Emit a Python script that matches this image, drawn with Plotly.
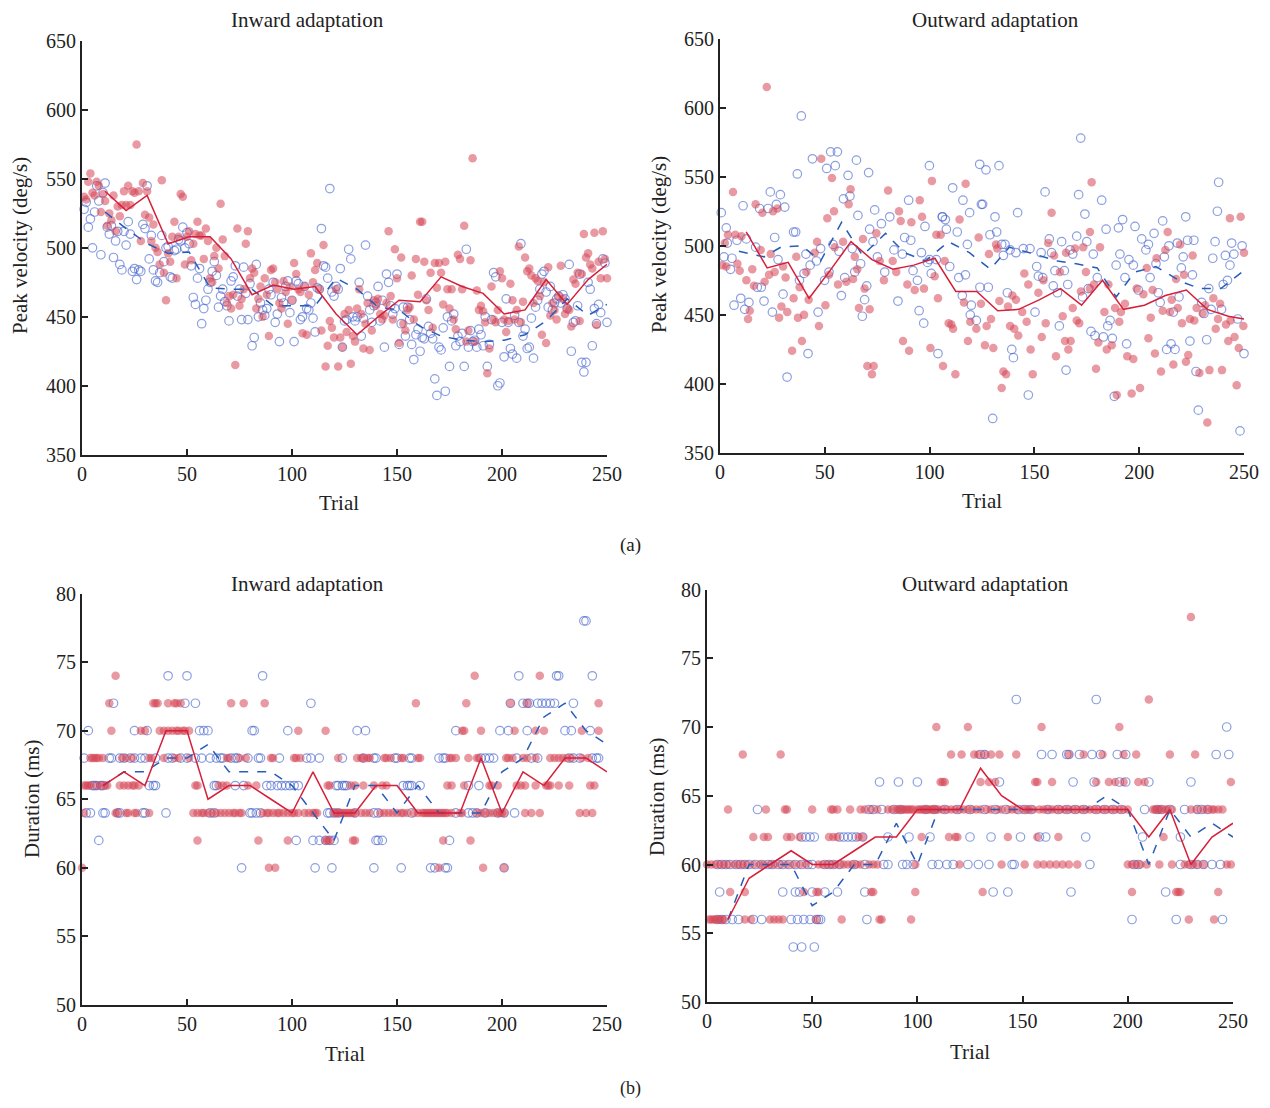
import plotly.graph_objects as go

FONT = "Liberation Serif, Times New Roman, serif"
W, H = 1270, 1108
OFF = 8                      # default page margin of the browser body
FW, FH = W - 2 * OFF, H - 2 * OFF

# ---------------- (a) Peak velocity, inward adaptation (trials 1..250) ----------------
tl_red = [537,535,548,554,540,538,548,545,526,539, 534,516,525,520,538,512,530,523,531,541,
          531,545,531,541,540,575,541,505,547,524, 541,522,505,517,500,497,488,549,482,462,
          496,490,508,519,478,508,539,537,488,508, 512,491,503,510,519,509,509,492,514,505,
          478,475,494,500,485,532,506,494,460,465, 456,466,415,514,458,463,470,503,512,478,
          485,482,456,463,472,450,478,466,436,484, 485,475,470,460,456,476,468,445,472,462,
          489,481,470,468,438,472,437,466,496,475, 484,489,470,440,502,414,429,447,442,435,
          470,414,435,428,452,439,455,416,436,432, 456,470,452,427,445,460,426,440,462,458,
          463,452,448,451,460,512,465,448,499,478, 431,493,445,440,455,457,480,448,492,466,
          519,519,490,462,455,482,442,489,471,489, 482,459,490,470,456,470,448,441,495,492,
          470,516,432,440,491,565,432,469,455,458, 454,446,409,427,472,448,446,455,483,478,
          448,439,447,474,462,448,455,501,446,461, 493,483,485,480,460,478,476,465,437,475,
          431,486,451,460,455,448,465,487,463,452, 456,455,443,477,474,482,447,481,510,493,
          496,488,485,511,444,490,478,512,492,478]
tl_blue = [528,533,515,521,500,526,545,534,495,540, 547,515,510,516,493,505,512,488,484,512,
           502,519,510,483,485,477,484,483,517,514, 545,492,509,484,476,475,482,509,490,500,
           501,479,478,498,499,506,505,515,500,511, 503,487,464,459,478,485,445,456,462,470,
           475,483,490,480,457,465,470,461,458,447, 476,479,487,465,470,448,486,467,448,474,
           429,435,488,450,460,455,451,456,470,466, 475,446,452,432,464,460,472,476,453,462,
           432,476,474,448,450,472,456,455,460,449, 439,471,470,514,487,486,478,543,468,465,
           472,470,485,428,447,448,499,492,450,447, 450,475,436,449,502,465,455,446,458,460,
           472,447,462,428,481,475,458,452,456,481, 430,445,457,436,457,448,430,419,437,441,
           425,435,434,463,443,438,434,405,393,428, 426,442,396,450,414,447,452,429,436,432,
           438,414,499,428,440,432,433,428,441,437, 429,450,414,430,448,482,479,400,402,446,
           421,463,446,427,423,451,420,446,503,436, 441,427,428,449,420,457,462,470,481,483,
           468,457,472,455,460,463,465,460,466,463, 456,488,425,446,447,458,481,417,410,417,
           475,470,429,456,445,459,453,492,489,446]
tl_line_x = [11,21,31,41,51,61,71,81,91,101,111,121,131,141,151,161,171,181,191,201,211,221,231,241,250]
tl_red_line = [541,527,538,503,508,508,492,466,473,470,472,452,437,450,462,461,479,472,467,452,455,477,459,477,488]
tl_blue_line = [526,514,503,496,497,471,470,470,458,458,458,478,470,457,455,443,436,433,432,433,437,447,463,451,459]

# ---------------- (a) Peak velocity, outward adaptation (trial, value) ----------------
tr_red = [(1,486),(2.3,502),(22.3,615),(6.2,539),(48.3,563),(53.4,549),(62.3,541),(61.4,530),(17,530),(20.2,524),
          (25.3,525),(27.4,527),(54.4,525),(51.2,520),(80.2,540),(85.4,525),(86.2,518),(91.3,517),(95.3,533),
          (96.4,521),(101.1,547),(117.2,545),(114.3,519),(3.8,508),(7.3,508),(10.2,507),(3,485),(8.3,487),
          (9.4,482),(12.6,475),(14.2,453),(13.4,447),(16.2,471),(19.4,497),(15.4,483),(21.3,474),(23.4,479),
          (24.2,494),(26.1,481),(30.1,485),(31.3,477),(29.3,456),(28.2,448),(32.1,452),(34.4,424),(35.1,462),
          (36.4,492),(38,470),(37.2,448),(40.1,450),(39.1,431),(41.2,481),(42.3,461),(45.2,495),(46.3,503),
          (47.2,442),(50.3,457),(52,479),(54.7,499),(56.3,472),(58.7,503),(60.3,474),(63.5,476),(64.3,492),
          (65.5,483),(66.3,455),(68.2,505),(69,469),(70.3,413),(72.5,407),(73.3,413),(71.4,454),(74.6,509),
          (76.2,489),(78.2,475),(82.4,489),(84.1,481),(87.3,431),(90.2,424),(89.4,472),(92.9,468),(97.3,469),
          (100.4,426),(102.4,478),(104,462),(103.2,508),(105.3,508),(106.4,413),(107.2,489),(109.1,444),
          (110.4,443),(111.2,440),(112.3,407),(116.4,459),(118.3,431),(119.4,445),(122.3,440),(123.4,506),
          (177.3,546),(158.2,524),(243.3,520),(248.4,521),(176.5,510),(181.3,499),(131.7,501),(132.3,498),
          (156.6,502),(159.4,493),(165.1,495),(169.4,498),(173.3,499),(128.3,494),(145.2,480),(147.1,472),
          (151.9,466),(154.3,475),(162.2,481),(124.5,458),(133.3,460),(137.4,456),(139.5,464),(141.2,461),
          (144.2,452),(129.3,447),(127.2,442),(126.4,428),(130.4,426),(135.2,409),(136.5,407),(134.4,397),
          (138.4,442),(140.4,440),(142.3,435),(146.3,445),(148.2,425),(149.2,407),(153.5,434),(155.4,444),
          (160.3,420),(163.5,449),(164.6,431),(166.2,425),(167.3,431),(168.3,455),(170.2,446),(171.4,444),
          (172.2,467),(174.6,481),(176.5,469),(178.4,472),(180.5,430),(179.4,411),(183.4,452),(184.5,425),
          (185.3,472),(186.9,428),(188.5,455),(189.3,392),(190.5,445),(191.3,452),(193.2,458),(194.3,420),
          (196.4,393),(197.2,418),(198.8,469),(200.4,397),(202,465),(203.6,484),(204.4,433),(205.5,448),
          (206.4,468),(207.5,422),(208.3,491),(210.4,409),(211.2,453),(212.5,497),(213.6,510),(214.7,452),
          (215.5,461),(216.3,414),(217.6,476),(218.4,455),(219.5,501),(220.4,444),(221.4,479),(222.3,416),
          (223.4,421),(224.2,447),(225.5,493),(226.3,446),(227.4,455),(228.7,408),(230.3,451),(231.4,457),
          (232.5,372),(233.5,410),(235.4,462),(236.5,440),(237.6,447),(238.6,458),(239.5,410),(241.4,443),
          (242.5,431),(243.6,446),(245.5,434),(246.5,399),(247.5,426),(249.7,442),(250,495)]
tr_blue = [(38.8,594),(44.1,563),(50.9,556),(52.8,568),(56,568),(55,558),(36.9,552),(65.1,562),(70.9,553),
           (61.1,551),(0.6,524),(3,513),(11,529),(24,539),(18.9,527),(22.9,527),(26.9,530),(28.8,537),
           (30.9,528),(58.9,534),(62,536),(65.8,522),(73.8,526),(77,516),(81,521),(90,533),(99.9,558),
           (97.8,514),(106.1,521),(111,542),(115.9,533),(119.1,524),(123.9,559),(124.7,530),(1.9,492),
           (3.5,502),(5.7,491),(8.1,504),(12.6,505),(17,499),(5,483),(6.7,457),(9.9,462),(11.8,454),
           (13.8,459),(17.8,470),(19.7,470),(21,460),(25,452),(26.1,506),(27.7,490),(30.1,465),(35.1,510),
           (36.1,510),(37.9,475),(40.1,480),(41,494),(43,486),(46,489),(46.8,452),(48,498),(49.9,475),
           (52,481),(53.9,501),(56.8,496),(57.9,464),(59.5,477),(63.1,498),(64.3,481),(67.1,487),(69,461),
           (67.9,449),(70,471),(71.4,512),(73,503),(75.1,492),(78.6,481),(83,497),(84.9,460),(87,494),
           (88.1,506),(91,504),(92.1,482),(94.2,475),(95,453),(96.1,495),(97.2,444),(99,488),(100,490),
           (100.8,480),(103.2,490),(104,422),(106.1,521),(107.5,519),(108,512),(109.6,485),(113.2,510),
           (113.9,477),(115.6,464),(117.1,479),(118,501),(119.4,450),(119.9,457),(122.3,446),(32,405),
           (42,422),(172.1,578),(155.1,539),(171.1,537),(182.1,533),(174.1,523),(237.9,546),(237.3,525),
           (126.9,555),(133.1,558),(125.3,530),(131.2,521),(142,524),(184.2,512),(190.1,513),(192.1,519),
           (198,514),(211.2,518),(222.2,521),(128.8,508),(132,510),(134.4,501),(136,501),(138.4,497),
           (135.2,493),(141.2,495),(144.7,498),(147.9,498),(153.2,495),(157.1,505),(158.2,495),(163,503),
           (167,497),(168.3,494),(170.2,507),(175,503),(178.1,494),(180,477),(151.1,485),(151.9,478),
           (154,477),(159.8,482),(164.3,482),(159,471),(161,466),(165.9,472),(173,463),(175.7,469),
           (189,486),(190.8,494),(193.2,477),(195.1,490),(197.2,486),(199.6,468),(201.2,505),(203.2,497),
           (204.4,501),(205.2,477),(207.1,509),(208,487),(209.1,466),(210,459),(212,492),(214.2,500),
           (213.1,425),(217.1,425),(215.2,429),(216.3,452),(218.2,502),(219,463),(220.1,484),(221,492),
           (223.1,504),(224.2,431),(225.4,479),(226.1,504),(227.1,409),(228.2,381),(229.8,459),(230.9,451),
           (232.2,432),(233.2,469),(234.3,454),(235.1,491),(236.2,503),(239.3,454),(240.1,472),(241.1,493),
           (242.1,475),(243.3,486),(244.1,502),(245.2,494),(247,447),(248.1,366),(249.1,500),(250,422),
           (124,470),(128,470),(137.1,466),(139.2,425),(140,419),(147.1,392),(150.3,452),(161.9,442),
           (165.1,410),(177,438),(178.9,435),(182.9,434),(185,442),(186.1,446),(187.2,433),(188.1,391),
           (194,429),(130.1,375)]
tr_red_line_x = [12.5,22.5,32.5,42.5,52.5,62.5,72.5,82.5,92.5,102.5,112.5,122.5,132.5,142.5,152.5,162.5,
                 172.5,182.5,192.5,202.5,212.5,222.5,232.5,242.5,250]
tr_red_line = [510,484,488,462,482,503,490,483,486,491,467,467,453,454,461,469,457,475,454,457,464,468,454,449,447]
tr_blue_line_x = [9,21,29,39,48,58,68,79,88,98,109,119,129,138,150,161,170,180,189,198,208,220,229,239,249]
tr_blue_line = [496,492,499,500,489,517,493,509,495,489,503,495,483,499,494,489,487,484,463,481,485,474,469,469,481]

# ---------------- (b) Duration, inward adaptation: (duration level, trials) ----------------
bl_red = [(74,[16,187,218]),
          (72,[13,34,35,36,41,44,45,47,71,77,87,159,183,204,212,246]),
          (70,[14,28,30,37,39,41,43,45,46,48,49,51,103,116,181,182,190,206,216,220,238,246]),
          (68,[4,5,6,7,8,10,19,21,24,32,33,39,44,46,51,69,70,75,78,90,91,101,102,104,122,131,133,134,136,
               137,144,145,147,152,153,160,161,175,176,178,184,188,189,202,203,205,210,212,216,223,225,227,
               229,231,233,238,241]),
          (66,[1,2,3,4,7,9,11,12,18,20,22,24,25,27,54,55,65,67,69,79,83,117,118,128,130,134,139,143,145,174,
               176,182,194,195,198,207,209,211,216,221,222,223,227,232,242,244]),
          (64,[1,16,17,21,22,25,26,32,53,55,57,58,60,62,64,66,68,70,72,73,75,76,86,88,89,91,93,94,96,98,100,
               101,103,106,108,110,111,112,120,121,122,123,124,125,126,127,128,129,130,133,135,137,142,144,
               146,148,150,152,153,155,158,160,162,163,164,165,166,167,168,169,170,171,172,173,174,176,180,
               181,188,190,192,194,196,198,199,200,201,211,214,218,237,240,243]),
          (62,[55,84,98,116,117,118,129,130,172,185]),
          (60,[0,89,92,170,191,201])]
bl_blue = [(78,[239,240]),
           (74,[41,50,86,208,226,227,243]),
           (72,[15,49,54,109,204,210,212,213,217,219,221,223,225,234]),
           (70,[3,25,31,56,58,60,81,82,98,131,135,178,199,203,212,230,233,242]),
           (68,[1,13,14,18,20,23,25,28,30,35,41,43,47,50,54,57,61,64,66,67,71,73,74,79,84,85,94,107,109,113,
                124,134,139,140,149,150,156,157,170,172,173,190,192,194,196,207,214,217,232,234,237,243,245,246]),
           (66,[5,6,7,9,10,32,34,35,63,64,73,77,88,90,93,95,97,99,101,103,121,122,124,125,126,153,155,156,157,
                161,184,189]),
           (64,[2,4,10,11,17,18,29,30,40,61,63,80,81,83,85,117,118,120,122,130,139,141,157,178,184,186,188,192,
                198,201,206]),
           (62,[8,102,110,113,116,118,120,140,141,143,175]),
           (60,[76,111,119,139,152,166,168,173,174,201])]
bl_line_x = [10,20,30,40,50,60,70,80,90,100,110,120,130,140,150,160,170,180,190,200,210,220,230,240,250]
bl_red_line = [66,67,66,70,70,65,66,66,65,64,67,64,64,66,66,64,64,64,68,64,67,66,68,68,67]
bl_blue_line = [66,67,67,68,68,69,67,67,67,66,64,62,66,66,64,66,64,64,64,67,68,71,72,70,69]

# ---------------- (b) Duration, outward adaptation ----------------
br_red = [(78,[230]),
          (72,[210]),
          (70,[109,124,159,196]),
          (68,[17,35,116,121,127,129,132,135,139,147,172,179,188,198,204,220,232]),
          (66,[111,112,113,130,134,137,156,157,164,185,191,194,198,205,208,249]),
          (64,[10,28,37,38,50,59,60,62,68,73,75,78,81,86,88,90,91,92,93,94,95,96,97,98,100,101,102,103,104,
               105,106,107,108,109,110,112,114,116,118,120,122,124,126,128,130,133,135,138,140,143,145,147,150,
               152,153,155,158,160,162,164,166,168,170,172,174,176,178,180,182,184,186,188,190,192,194,196,198,
               200,212,213,214,215,216,218,219,221,230,233,236,238,240,241,243,245]),
          (62,[22,27,29,38,40,44,58,60,62,72,74,102,115,118,119,143,157,167,217]),
          (60,[0,2,4,6,8,10,13,15,17,19,22,25,27,30,32,35,38,41,44,47,53,55,57,59,61,63,65,67,69,71,73,77,79,
               81,99,120,140,151,157,160,163,166,169,172,176,200,202,204,206,209,215,221,227,229,231,233,236,
               247,249]),
          (58,[11,18,46,52,53,78,79,99,131,202,223,224,225,243]),
          (56,[1,2,3,4,5,6,7,8,18,21,30,32,34,36,52,64,82,83,97,229,241])]
br_blue = [(72,[147,185]),
           (70,[247]),
           (68,[130,132,159,164,171,172,177,183,187,195,199,242,248]),
           (66,[82,91,100,139,174,184,196,199,210,230]),
           (64,[24,77,79,83,89,92,104,108,113,119,125,132,137,142,148,151,154,162,167,171,175,179,185,189,193,
                197,208,214,216,220,227,233,235,238]),
           (62,[45,47,49,51,63,65,67,69,71,74,86,96,106,125,135,149,158,161,180,207,225]),
           (60,[5,7,9,11,14,16,18,20,23,26,29,31,34,36,39,42,45,48,50,56,58,60,63,70,75,84,86,93,95,98,107,110,
                114,117,124,129,134,145,146,182,203,205,225,230,233,236,240,244]),
           (58,[6,36,42,44,50,56,62,75,136,143,173,218]),
           (56,[5,7,9,12,15,22,26,40,43,46,49,52,53,54,76,202,223,245]),
           (54,[41,45,51])]
br_line_x = [10,20,30,40,50,60,70,80,90,100,110,120,130,140,150,160,170,180,190,200,210,220,230,240,250]
br_red_line = [56,59,60,61,60,60,61,62,62,64,64,64,67,65,64,64,64,64,64,64,62,64,60,62,63]
br_blue_line = [56,60,60,60,57,58,60,60,63,60,64,64,64,64,64,64,64,64,65,64,60,64,62,63,62]

# ---------------- styling ----------------
RED_DOT = "rgba(214,70,85,0.55)"
BLUE_RING = "rgba(70,100,205,0.62)"
RED_LINE = "rgb(214,32,58)"
BLUE_LINE = "rgb(40,92,185)"


def px_x(p):
    return (p - OFF) / FW


def px_y(p):
    return 1 - (p - OFF) / FH


def levels_to_xy(levels):
    xs, ys = [], []
    for lev, trials in levels:
        for t in trials:
            xs.append(t)
            ys.append(lev)
    return xs, ys


fig = go.Figure()


def add_panel(ax, bx, by, rx, ry, lx_r, ly_r, lx_b, ly_b):
    xa = "x" if ax == 1 else f"x{ax}"
    ya = "y" if ax == 1 else f"y{ax}"
    fig.add_trace(go.Scatter(x=bx, y=by, mode="markers", xaxis=xa, yaxis=ya, cliponaxis=False,
                             marker=dict(symbol="circle-open", size=8.5, color=BLUE_RING,
                                         line=dict(width=1.2, color=BLUE_RING)),
                             showlegend=False, hoverinfo="skip"))
    fig.add_trace(go.Scatter(x=rx, y=ry, mode="markers", xaxis=xa, yaxis=ya, cliponaxis=False,
                             marker=dict(symbol="circle", size=8.5, color=RED_DOT, line=dict(width=0)),
                             showlegend=False, hoverinfo="skip"))
    fig.add_trace(go.Scatter(x=lx_b, y=ly_b, mode="lines", xaxis=xa, yaxis=ya,
                             line=dict(color=BLUE_LINE, width=1.5, dash="dash"),
                             showlegend=False, hoverinfo="skip"))
    fig.add_trace(go.Scatter(x=lx_r, y=ly_r, mode="lines", xaxis=xa, yaxis=ya,
                             line=dict(color=RED_LINE, width=1.5),
                             showlegend=False, hoverinfo="skip"))


add_panel(1, list(range(1, 251)), tl_blue, list(range(1, 251)), tl_red,
          tl_line_x, tl_red_line, tl_line_x, tl_blue_line)
add_panel(2, [p[0] for p in tr_blue], [p[1] for p in tr_blue],
          [p[0] for p in tr_red], [p[1] for p in tr_red],
          tr_red_line_x, tr_red_line, tr_blue_line_x, tr_blue_line)
blbx, blby = levels_to_xy(bl_blue)
blrx, blry = levels_to_xy(bl_red)
add_panel(3, blbx, blby, blrx, blry, bl_line_x, bl_red_line, bl_line_x, bl_blue_line)
brbx, brby = levels_to_xy(br_blue)
brrx, brry = levels_to_xy(br_red)
add_panel(4, brbx, brby, brrx, brry, br_line_x, br_red_line, br_line_x, br_blue_line)

axis_common = dict(showgrid=False, zeroline=False, showline=True, linecolor="#222", linewidth=1.8,
                   ticks="inside", ticklen=6, tickwidth=1.8, tickcolor="#222", automargin=False,
                   tickfont=dict(family=FONT, size=20, color="#222"), mirror=False)

xticks = [0, 50, 100, 150, 200, 250]
panels = {
    1: dict(x=(82, 607), y=(41, 454.7), yr=[350, 650], yt=[350, 400, 450, 500, 550, 600, 650]),
    2: dict(x=(720, 1244), y=(38.6, 453), yr=[350, 650], yt=[350, 400, 450, 500, 550, 600, 650]),
    3: dict(x=(82, 607), y=(593.5, 1005), yr=[50, 80], yt=[50, 55, 60, 65, 70, 75, 80]),
    4: dict(x=(707, 1233), y=(589.5, 1002), yr=[50, 80], yt=[50, 55, 60, 65, 70, 75, 80]),
}
layout_axes = {}
for k, p in panels.items():
    xn = "xaxis" if k == 1 else f"xaxis{k}"
    yn = "yaxis" if k == 1 else f"yaxis{k}"
    ya_ref = "y" if k == 1 else f"y{k}"
    xa_ref = "x" if k == 1 else f"x{k}"
    layout_axes[xn] = dict(axis_common, domain=[px_x(p["x"][0]), px_x(p["x"][1])], range=[0, 250],
                           tickvals=xticks, anchor=ya_ref)
    layout_axes[yn] = dict(axis_common, domain=[px_y(p["y"][1]), px_y(p["y"][0])], range=p["yr"],
                           tickvals=p["yt"], anchor=xa_ref)

fig.update_layout(width=FW, height=FH, autosize=False, margin=dict(l=0, r=0, t=0, b=0, pad=0, autoexpand=False),
                  paper_bgcolor="white", plot_bgcolor="white", showlegend=False, **layout_axes)

texts = [
    ("Inward adaptation", 307, 20, 21, 0),
    ("Outward adaptation", 995, 20, 21, 0),
    ("Inward adaptation", 307, 584, 21, 0),
    ("Outward adaptation", 985, 584, 21, 0),
    ("Trial", 339, 503, 21, 0),
    ("Trial", 982, 501, 21, 0),
    ("Trial", 345, 1054, 21, 0),
    ("Trial", 970, 1052, 21, 0),
    ("Peak velocity (deg/s)", 20, 246, 21, -90),
    ("Peak velocity (deg/s)", 659, 245, 21, -90),
    ("Duration (ms)", 32, 799, 21, -90),
    ("Duration (ms)", 657, 797, 21, -90),
    ("(a)", 630, 545, 19, 0),
    ("(b)", 630, 1088, 18, 0),
]
for txt, x, y, size, ang in texts:
    fig.add_annotation(text=txt, x=px_x(x), y=px_y(y), xref="paper", yref="paper",
                       xanchor="center", yanchor="middle", showarrow=False, textangle=ang,
                       font=dict(family=FONT, size=size, color="#222"))

fig.write_html("out.html")
